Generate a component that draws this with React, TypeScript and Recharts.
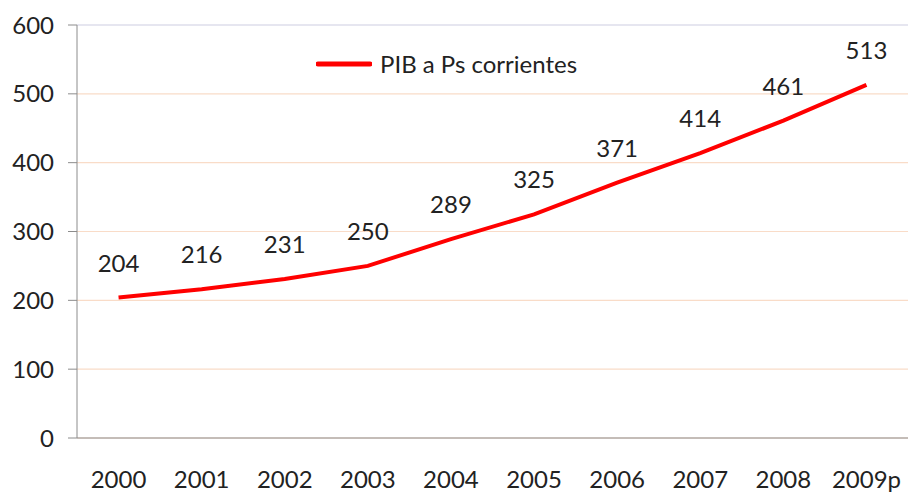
import { CartesianGrid, LabelList, Legend, Line, LineChart, ReferenceLine, XAxis, YAxis } from "recharts";

const years = ["2000", "2001", "2002", "2003", "2004", "2005", "2006", "2007", "2008", "2009p"];
const pib = [204, 216, 231, 250, 289, 325, 371, 414, 461, 513];
const yTicks = [0, 100, 200, 300, 400, 500, 600];

const data = years.map((year, i) => ({ year, pib: pib[i] }));

const font = "Lato, 'Open Sans', sans-serif";

function PibLegend() {
  return (
    <div style={{ display: "flex", alignItems: "center", fontFamily: font, fontSize: 24, color: "#222" }}>
      <svg width={56} height={10} style={{ marginRight: 8 }}>
        <line x1={2} y1={5} x2={54} y2={5} stroke="#ff0000" strokeWidth={5} strokeLinecap="round" />
      </svg>
      <span>PIB a Ps corrientes</span>
    </div>
  );
}

export default function App() {
  return (
    <div style={{ position: "absolute", left: 0, top: 0, width: 909, height: 492, background: "#fff" }}>
      <LineChart width={909} height={492} data={data} margin={{ top: 25, right: 1, bottom: 0, left: 0 }}>
        <CartesianGrid horizontal vertical={false} stroke="#f9dcc8" strokeWidth={1.2} />
        <ReferenceLine y={600} stroke="#e6e6f0" strokeWidth={2} />
        <XAxis
          dataKey="year"
          scale="band"
          height={54}
          tickSize={0}
          tickMargin={33}
          stroke="#8c8c8c"
          interval={0}
          tick={{ fill: "#222", fontSize: 24, fontFamily: font }}
        />
        <YAxis
          domain={[0, 600]}
          ticks={yTicks}
          width={77}
          tickSize={9}
          tickMargin={14}
          stroke="#8c8c8c"
          tick={{ fill: "#222", fontSize: 24, fontFamily: font }}
        />
        <Legend
          layout="horizontal"
          verticalAlign="middle"
          align="center"
          content={() => <PibLegend />}
          wrapperStyle={{ top: 49, left: 316, width: "auto" }}
        />
        <Line
          type="linear"
          dataKey="pib"
          stroke="#ff0000"
          strokeWidth={4}
          dot={false}
          isAnimationActive={false}
        >
          <LabelList dataKey="pib" position="top" offset={26} fill="#222" fontSize={24} fontFamily={font} />
        </Line>
      </LineChart>
    </div>
  );
}
